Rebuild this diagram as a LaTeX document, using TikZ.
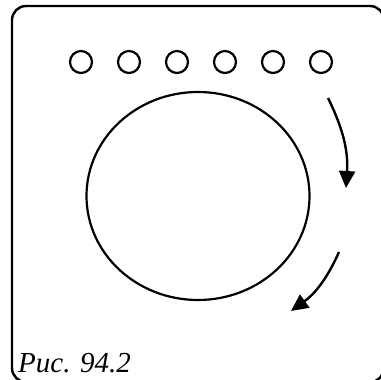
\documentclass[tikz,border=0pt]{standalone}
\usepackage{fontspec}
\setmainfont{Liberation Serif}
\usetikzlibrary{shapes.geometric,arrows.meta}

\begin{document}
\begin{tikzpicture}[
  x=1pt, y=-1pt,
  frame/.style={draw=black, line width=2.4pt, rounded corners=14pt},
  hole/.style={draw=black, circle, line width=2.2pt, minimum size=22pt, inner sep=0pt},
  drum/.style={draw=black, ellipse, line width=2.2pt, minimum width=223pt,
               minimum height=208pt, inner sep=0pt},
  turn/.style={-{Triangle[length=17pt,width=16pt]}, line width=2.4pt},
  figlabel/.style={font=\itshape\fontsize{29}{32}\selectfont, anchor=base west, inner sep=0pt},
]
\useasboundingbox (0,0) rectangle (381,380);
\draw[frame] (12,6) rectangle (384,382);
% row of knobs
\foreach \i/\x in {1/81,2/129,3/177,4/225,5/273,6/321}
  \node[hole] (h\i) at (\x,62) {};
\node[drum] (drum) at (198,196) {};
\coordinate (a1) at (328,98);
\coordinate (b1) at (346,188);
\coordinate (a2) at (339,252);
\coordinate (b2) at (291,311);
\draw[turn] (a1) to[bend left=15] (b1);
\draw[turn] (a2) to[bend left=15] (b2);
\node[figlabel] (fig) at (18,372) {Рис. 94.2};
\end{tikzpicture}
\end{document}
